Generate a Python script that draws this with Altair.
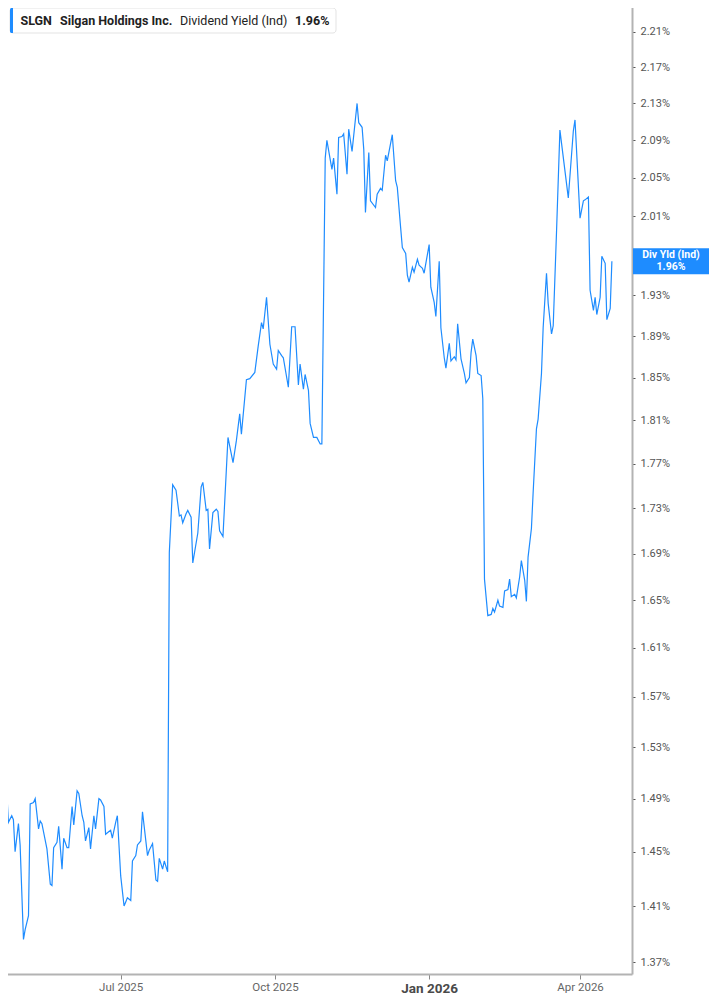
import altair as alt
import pandas as pd

# ---- data ----
dates = [
    "2025-04-20", "2025-04-22", "2025-04-24", "2025-04-25", "2025-04-27", "2025-04-28", "2025-04-29",
    "2025-05-01", "2025-05-02", "2025-05-04", "2025-05-05", "2025-05-07", "2025-05-08", "2025-05-10",
    "2025-05-11", "2025-05-13", "2025-05-14", "2025-05-15", "2025-05-18", "2025-05-20", "2025-05-21",
    "2025-05-22", "2025-05-24", "2025-05-25", "2025-05-27", "2025-05-28", "2025-05-30", "2025-05-31",
    "2025-06-02", "2025-06-03", "2025-06-05", "2025-06-06", "2025-06-08", "2025-06-09", "2025-06-10",
    "2025-06-12", "2025-06-13", "2025-06-15", "2025-06-16", "2025-06-18", "2025-06-19", "2025-06-21",
    "2025-06-22", "2025-06-24", "2025-06-25", "2025-06-26", "2025-06-28", "2025-06-29",
    "2025-07-01", "2025-07-03", "2025-07-04", "2025-07-05", "2025-07-07", "2025-07-08", "2025-07-10",
    "2025-07-11", "2025-07-13", "2025-07-14", "2025-07-17", "2025-07-18", "2025-07-20", "2025-07-22",
    "2025-07-23", "2025-07-24", "2025-07-26", "2025-07-27", "2025-07-29", "2025-07-30",
    "2025-08-01", "2025-08-03", "2025-08-05", "2025-08-06", "2025-08-07", "2025-08-09", "2025-08-10",
    "2025-08-12", "2025-08-13", "2025-08-16", "2025-08-18", "2025-08-19", "2025-08-21", "2025-08-22",
    "2025-08-23", "2025-08-25", "2025-08-27", "2025-08-28", "2025-08-29", "2025-08-31",
    "2025-09-03", "2025-09-06", "2025-09-08", "2025-09-10", "2025-09-11", "2025-09-14", "2025-09-16",
    "2025-09-19", "2025-09-21", "2025-09-23", "2025-09-24", "2025-09-26", "2025-09-28", "2025-09-30",
    "2025-10-02", "2025-10-03", "2025-10-05", "2025-10-06", "2025-10-09", "2025-10-11", "2025-10-13",
    "2025-10-15", "2025-10-16", "2025-10-18", "2025-10-19", "2025-10-21", "2025-10-22", "2025-10-24",
    "2025-10-26", "2025-10-28", "2025-10-29", "2025-10-31",
    "2025-11-01", "2025-11-04", "2025-11-05", "2025-11-07", "2025-11-08", "2025-11-10", "2025-11-11",
    "2025-11-13", "2025-11-14", "2025-11-16", "2025-11-19", "2025-11-20", "2025-11-22", "2025-11-23",
    "2025-11-24", "2025-11-26", "2025-11-27", "2025-11-30",
    "2025-12-01", "2025-12-03", "2025-12-04", "2025-12-06", "2025-12-07", "2025-12-10", "2025-12-12",
    "2025-12-13", "2025-12-15", "2025-12-16", "2025-12-18", "2025-12-19", "2025-12-20", "2025-12-22",
    "2025-12-23", "2025-12-25", "2025-12-26", "2025-12-28", "2025-12-29",
    "2026-01-01", "2026-01-02", "2026-01-04", "2026-01-05", "2026-01-07", "2026-01-08", "2026-01-10",
    "2026-01-11", "2026-01-13", "2026-01-14", "2026-01-16", "2026-01-17", "2026-01-18", "2026-01-20",
    "2026-01-22", "2026-01-23", "2026-01-25", "2026-01-26", "2026-01-27", "2026-01-29", "2026-01-30",
    "2026-02-01", "2026-02-02", "2026-02-03", "2026-02-05", "2026-02-07", "2026-02-08", "2026-02-09",
    "2026-02-11", "2026-02-12", "2026-02-14", "2026-02-15", "2026-02-17", "2026-02-18", "2026-02-19",
    "2026-02-21", "2026-02-22", "2026-02-24", "2026-02-25", "2026-02-27", "2026-02-28",
    "2026-03-01", "2026-03-03", "2026-03-04", "2026-03-06", "2026-03-07", "2026-03-09", "2026-03-10",
    "2026-03-12", "2026-03-13", "2026-03-15", "2026-03-16", "2026-03-18", "2026-03-20", "2026-03-25",
    "2026-03-28", "2026-03-29",
    "2026-04-01", "2026-04-03", "2026-04-04", "2026-04-06", "2026-04-07", "2026-04-09", "2026-04-10",
    "2026-04-11", "2026-04-13", "2026-04-14", "2026-04-16", "2026-04-17", "2026-04-19", "2026-04-20",
]

yields = [
    1.557, 1.493, 1.496, 1.472, 1.477, 1.474, 1.450,
    1.471, 1.455, 1.386, 1.393, 1.403, 1.486, 1.487,
    1.490, 1.467, 1.473, 1.471, 1.452, 1.426, 1.425,
    1.453, 1.457, 1.469, 1.437, 1.460, 1.453, 1.453,
    1.484, 1.470, 1.496, 1.494, 1.477, 1.472, 1.458,
    1.468, 1.452, 1.477, 1.467, 1.490, 1.489, 1.484,
    1.463, 1.465, 1.466, 1.460, 1.472, 1.477,
    1.432, 1.410, 1.413, 1.416, 1.414, 1.443, 1.447,
    1.455, 1.458, 1.480, 1.447, 1.451, 1.456, 1.429,
    1.428, 1.445, 1.437, 1.443, 1.435, 1.691,
    1.751, 1.746, 1.723, 1.724, 1.717, 1.725, 1.728,
    1.722, 1.682, 1.708, 1.749, 1.753, 1.728, 1.729,
    1.694, 1.726, 1.729, 1.727, 1.710, 1.705,
    1.794, 1.771, 1.791, 1.816, 1.797, 1.848, 1.849,
    1.855, 1.880, 1.903, 1.897, 1.928, 1.882, 1.863,
    1.858, 1.876, 1.871, 1.869, 1.841, 1.899, 1.899,
    1.843, 1.863, 1.839, 1.853, 1.838, 1.807, 1.794,
    1.794, 1.788, 1.788, 2.071,
    2.090, 2.059, 2.071, 2.033, 2.093, 2.094, 2.097,
    2.054, 2.102, 2.078, 2.130, 2.109, 2.104, 2.080,
    2.014, 2.077, 2.026, 2.019,
    2.033, 2.039, 2.037, 2.074, 2.068, 2.096, 2.047,
    2.040, 1.998, 1.978, 1.972, 1.950, 1.943, 1.958,
    1.953, 1.966, 1.960, 1.957, 1.952,
    1.981, 1.938, 1.923, 1.909, 1.964, 1.898, 1.869,
    1.859, 1.883, 1.866, 1.870, 1.867, 1.902, 1.868,
    1.854, 1.845, 1.850, 1.874, 1.887, 1.871, 1.854,
    1.852, 1.830, 1.668, 1.637, 1.638, 1.643, 1.640,
    1.650, 1.645, 1.644, 1.658, 1.659, 1.668, 1.653,
    1.655, 1.652, 1.670, 1.684, 1.667, 1.649,
    1.687, 1.712, 1.743, 1.802, 1.811, 1.854, 1.898,
    1.952, 1.922, 1.892, 1.900, 1.995, 2.101, 2.029,
    2.100, 2.112,
    2.008, 2.026, 2.027, 2.030, 1.935, 1.915, 1.928,
    1.911, 1.928, 1.969, 1.962, 1.906, 1.917, 1.964,
]

ticker = "SLGN"
company = "Silgan Holdings Inc."
metric = "Dividend Yield (Ind)"
callout_title = "Div Yld (Ind)"

y_ticks = [1.37, 1.41, 1.45, 1.49, 1.53, 1.57, 1.61, 1.65, 1.69, 1.73, 1.77,
           1.81, 1.85, 1.89, 1.93, 2.01, 2.05, 2.09, 2.13, 2.17, 2.21]
x_ticks = ["2025-07-01", "2025-10-01", "2026-01-01", "2026-04-01"]
x_range = ["2025-04-20", "2026-05-02"]
y_range = [1.3616, 2.2463]

BLUE = "#1e8cff"
FONT = "Roboto"


def ms(s):
    return int(pd.Timestamp(s, tz="UTC").timestamp() * 1000)


df = pd.DataFrame({"date": dates, "yield": yields})
last_df = df.tail(1).reset_index(drop=True)
latest_txt = f"{yields[-1]:.2f}%"
one = pd.DataFrame({"k": [0]})

xs = alt.Scale(type="utc", domain=[ms(x_range[0]), ms(x_range[1])], nice=False)
ys = alt.Scale(type="log", domain=y_range, nice=False, zero=False)

is_jan = "utcmonth(datum.value) == 0"
x_axis = alt.Axis(
    values=[ms(t) for t in x_ticks],
    labelExpr="utcFormat(datum.value, '%b %Y')",
    title=None,
    grid=False,
    domainColor="#b3b3b3",
    domainWidth=2,
    tickColor="#8a8a8a",
    tickSize=5,
    tickWidth=1,
    labelPadding=2,
    labelFont=FONT,
    labelFontSize={"condition": {"test": is_jan, "value": 13.5}, "value": 11.5},
    labelFontWeight={"condition": {"test": is_jan, "value": "bold"}, "value": "normal"},
    labelColor={"condition": {"test": is_jan, "value": "#4a4a4a"}, "value": "#666666"},
    labelOverlap=False,
)

y_axis = alt.Axis(
    orient="right",
    values=y_ticks,
    labelExpr="format(datum.value, '.2f') + '%'",
    title=None,
    grid=False,
    domainColor="#b3b3b3",
    domainWidth=2,
    tickColor="#555555",
    tickSize=3,
    tickWidth=1,
    labelPadding=5,
    labelFont=FONT,
    labelFontSize=11,
    labelColor="#555555",
    labelOverlap=False,
)

line = alt.Chart(df).mark_line(color=BLUE, strokeWidth=1.2).encode(
    x=alt.X("date:T", scale=xs, axis=x_axis),
    y=alt.Y("yield:Q", scale=ys, axis=y_axis),
)

callout_box = alt.Chart(last_df).mark_rect(color=BLUE, height=26).encode(
    x=alt.value(633), x2=alt.value(709),
    y=alt.Y("yield:Q", scale=ys, axis=y_axis),
)
callout_t1 = alt.Chart(last_df).mark_text(
    text=callout_title, color="white", font=FONT, fontSize=10.5, fontWeight="bold",
    align="center", baseline="middle", dy=-6,
).encode(x=alt.value(671), y=alt.Y("yield:Q", scale=ys, axis=y_axis))
callout_t2 = alt.Chart(last_df).mark_text(
    text=latest_txt, color="white", font=FONT, fontSize=10.5, fontWeight="bold",
    align="center", baseline="middle", dy=6,
).encode(x=alt.value(671), y=alt.Y("yield:Q", scale=ys, axis=y_axis))

legend_box = alt.Chart(one).mark_rect(
    fill="white", stroke="#e3e3e3", strokeWidth=1, cornerRadius=3,
).encode(x=alt.value(10), x2=alt.value(336), y=alt.value(8), y2=alt.value(33))
legend_accent = alt.Chart(one).mark_rect(
    fill=BLUE, cornerRadiusTopLeft=3, cornerRadiusBottomLeft=3,
).encode(x=alt.value(10), x2=alt.value(13), y=alt.value(8), y2=alt.value(33))


def legend_text(txt, xpos, weight):
    return alt.Chart(one).mark_text(
        text=txt, color="#222222", font=FONT, fontSize=12.5, fontWeight=weight,
        align="left", baseline="middle",
    ).encode(x=alt.value(xpos), y=alt.value(21))


chart = alt.layer(
    line, callout_box, callout_t1, callout_t2,
    legend_box, legend_accent,
    legend_text(ticker, 20.5, "bold"),
    legend_text(company, 60, "bold"),
    legend_text(metric, 180, "normal"),
    legend_text(latest_txt, 295, "bold"),
).properties(
    width=632, height=974,
    autosize=alt.AutoSizeParams(type="none"),
    padding={"left": -8, "top": -8, "right": 77, "bottom": 22},
    background="white",
).configure_view(stroke=None)

chart.save("out.html", embed_options={"renderer": "svg", "actions": False})
